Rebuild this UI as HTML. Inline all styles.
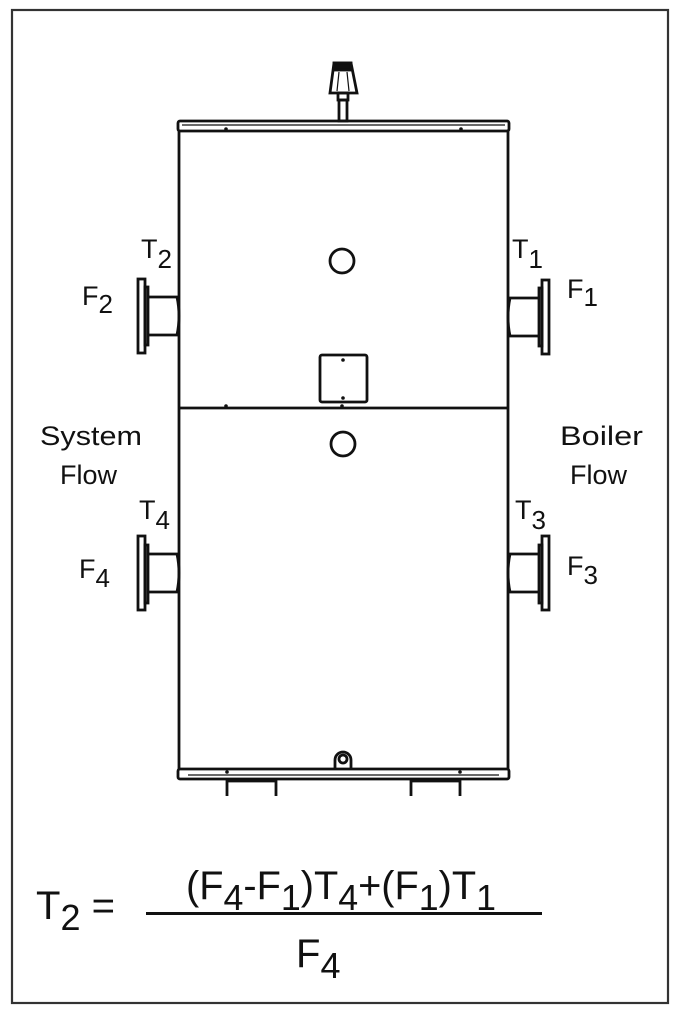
<!DOCTYPE html>
<html><head><meta charset="utf-8"><style>
html,body{margin:0;padding:0;background:#fff;}
svg{display:block;}
text{font-family:"Liberation Sans",sans-serif;fill:#111;}
</style></head><body>
<svg width="682" height="1014" viewBox="0 0 682 1014" xmlns="http://www.w3.org/2000/svg">
<rect x="0" y="0" width="682" height="1014" fill="#fff"/>
<rect x="12" y="10" width="656" height="993" fill="none" stroke="#333" stroke-width="2.2"/>
<g stroke="#111" fill="none" stroke-width="2.8">
<!-- vent -->
<path d="M334 63 L351 63 L357 93 L330 93 Z" fill="#fff"/>
<rect x="334" y="63" width="17" height="7" fill="#111"/>
<line x1="339" y1="72" x2="337" y2="91" stroke-width="1.2"/>
<line x1="347" y1="72" x2="349" y2="91" stroke-width="1.2"/>
<rect x="338" y="93" width="10" height="7"/>
<rect x="339" y="100" width="8" height="21"/>
<!-- top cap -->
<rect x="178" y="121" width="331" height="10" rx="2"/>
<line x1="182" y1="125" x2="505" y2="125" stroke-width="1.2"/>
<!-- body -->
<line x1="179" y1="131" x2="179" y2="769"/>
<line x1="508" y1="131" x2="508" y2="769"/>
<line x1="179" y1="408" x2="508" y2="408"/>
<!-- bottom cap -->
<rect x="178" y="769" width="331" height="10" rx="2"/>
<line x1="188" y1="775" x2="499" y2="775" stroke-width="1.2"/>
<!-- legs -->
<path d="M227 796 V781 H276 V796"/>
<path d="M411 796 V781 H460 V796"/>
<!-- circles & hatch -->
<circle cx="342" cy="261" r="12"/>
<circle cx="343" cy="444" r="12"/>
<rect x="320" y="355" width="47" height="47" rx="2"/>
<path d="M335 769 V760 A8 8 0 0 1 351 760 V769"/>
<circle cx="343" cy="759" r="4"/>
<!-- left flanges -->
<rect x="138" y="279" width="7" height="74"/>
<rect x="145" y="287" width="3" height="58"/>
<path d="M148 297 H177 Q181 316 177 335 H148"/>
<rect x="138" y="536" width="7" height="74"/>
<rect x="145" y="545" width="3" height="58"/>
<path d="M148 554 H177 Q181 573 177 592 H148"/>
<!-- right flanges -->
<rect x="542" y="280" width="7" height="74"/>
<rect x="539" y="288" width="3" height="58"/>
<path d="M539 298 H510 Q506 317 510 336 H539"/>
<rect x="542" y="536" width="7" height="74"/>
<rect x="539" y="545" width="3" height="58"/>
<path d="M539 554 H510 Q506 573 510 592 H539"/>
</g>
<g fill="#111">
<circle cx="226" cy="129" r="1.8"/><circle cx="461" cy="129" r="1.8"/>
<circle cx="226" cy="406" r="1.8"/><circle cx="342" cy="406" r="1.8"/>
<circle cx="343" cy="360" r="1.8"/><circle cx="343" cy="398" r="1.8"/>
<circle cx="227" cy="772" r="1.8"/><circle cx="460" cy="772" r="1.8"/>
</g>
<!-- labels -->
<g font-size="27">
<text x="141" y="258">T<tspan font-size="26" dy="10">2</tspan></text>
<text x="512" y="258">T<tspan font-size="26" dy="10">1</tspan></text>
<text x="82" y="305">F<tspan font-size="26" dy="8">2</tspan></text>
<text x="567" y="298">F<tspan font-size="26" dy="8">1</tspan></text>
<text x="40" y="445" textLength="102" lengthAdjust="spacingAndGlyphs">System</text>
<text x="60" y="484">Flow</text>
<text x="560" y="445" textLength="83" lengthAdjust="spacingAndGlyphs">Boiler</text>
<text x="570" y="484">Flow</text>
<text x="139" y="519">T<tspan font-size="26" dy="10">4</tspan></text>
<text x="515" y="519">T<tspan font-size="26" dy="10">3</tspan></text>
<text x="79" y="578">F<tspan font-size="26" dy="9">4</tspan></text>
<text x="567" y="575">F<tspan font-size="26" dy="9">3</tspan></text>
</g>
<!-- formula -->
<g font-size="40">
<text x="36" y="919">T<tspan font-size="36" dy="11">2</tspan><tspan dy="-11"> =</tspan></text>
<text x="186" y="899" textLength="310" lengthAdjust="spacingAndGlyphs">(F<tspan font-size="36" dy="11">4</tspan><tspan dy="-11">-F</tspan><tspan font-size="36" dy="11">1</tspan><tspan dy="-11">)T</tspan><tspan font-size="36" dy="11">4</tspan><tspan dy="-11">+(F</tspan><tspan font-size="36" dy="11">1</tspan><tspan dy="-11">)T</tspan><tspan font-size="36" dy="11">1</tspan></text>
<text x="296" y="967">F<tspan font-size="36" dy="11">4</tspan></text>
</g>
<rect x="146" y="912" width="396" height="3" fill="#111"/>
</svg>
</body></html>
